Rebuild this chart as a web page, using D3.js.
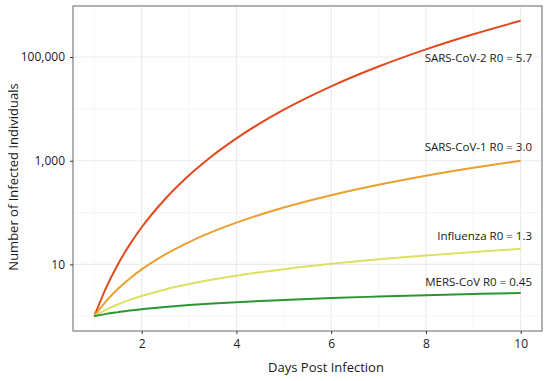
<!DOCTYPE html>
<html>
<head>
<meta charset="utf-8">
<script src="https://cdn.jsdelivr.net/npm/d3@7"></script>
<style>
  body { margin: 0; background: #fff; }
  text { font-family: "Open Sans", sans-serif; }
</style>
</head>
<body>
<svg id="chart"></svg>
<script>
const width = 550;
const height = 381;

// days sampled along the curves
const days = [1, 1.25, 1.5, 1.75, 2, 2.5, 3, 3.5, 4, 5, 6, 7, 8, 9, 10];

// infected individuals
const sarsCov2 = [1, 3.57, 10.1, 24.3, 52, 185, 524, 1263, 2700, 9640, 27250, 65600, 140500, 275000, 501000];
const sarsCov1 = [1, 1.95, 3.38, 5.36, 8, 15.6, 27, 42.9, 64, 125, 216, 343, 512, 729, 1000];
const influenza = [1, 1.34, 1.69, 2.07, 2.46, 3.29, 4.17, 5.10, 6.06, 8.10, 10.3, 12.6, 14.9, 17.4, 19.95];
const mersCov = [1, 1.11, 1.20, 1.29, 1.37, 1.51, 1.64, 1.76, 1.87, 2.06, 2.24, 2.40, 2.55, 2.69, 2.82];

const seriesNames = ["SARS-CoV-2 R0 = 5.7", "SARS-CoV-1 R0 = 3.0", "Influenza R0 = 1.3", "MERS-CoV R0 = 0.45"];
const seriesColors = ["#e04b1d", "#e9a02e", "#dde062", "#2b9530"];
const seriesValues = [sarsCov2, sarsCov1, influenza, mersCov];

const xTicks = [2, 4, 6, 8, 10];
const xMinor = [1, 3, 5, 7, 9];
const yTicks = [10, 1000, 100000];
const yMinor = [1, 100, 10000, 1000000];

const margin = { top: 6, right: 8, bottom: 50, left: 73 };

const svg = d3.select("#chart")
    .attr("width", width)
    .attr("height", height);

const x = d3.scaleLinear()
    .domain([0.55, 10.45])
    .range([margin.left, width - margin.right]);

const y = d3.scaleLog()
    .domain([Math.pow(10, -0.285), Math.pow(10, 5.985)])
    .range([height - margin.bottom, margin.top]);

const grid = svg.append("g");

grid.selectAll(".vminor")
    .data(xMinor.concat(xTicks))
    .join("line")
    .attr("x1", d => x(d)).attr("x2", d => x(d))
    .attr("y1", margin.top).attr("y2", height - margin.bottom)
    .attr("stroke", d => xTicks.includes(d) ? "#ebebeb" : "#f3f3f3")
    .attr("stroke-width", d => xTicks.includes(d) ? 1.1 : 0.8);

grid.selectAll(".hgrid")
    .data(yMinor.concat(yTicks))
    .join("line")
    .attr("x1", margin.left).attr("x2", width - margin.right)
    .attr("y1", d => y(d)).attr("y2", d => y(d))
    .attr("stroke", d => yTicks.includes(d) ? "#ebebeb" : "#f3f3f3")
    .attr("stroke-width", d => yTicks.includes(d) ? 1.1 : 0.8);

const line = d3.line()
    .x((d, i) => x(days[i]))
    .y(d => y(d))
    .curve(d3.curveMonotoneX);

svg.append("g")
    .selectAll("path")
    .data(seriesValues)
    .join("path")
    .attr("fill", "none")
    .attr("stroke", (d, i) => seriesColors[i])
    .attr("stroke-width", 2)
    .attr("d", line);

// curve labels
const labelY = [62, 151, 240, 286];
svg.append("g")
    .selectAll("text")
    .data(seriesNames)
    .join("text")
    .attr("x", 532)
    .attr("y", (d, i) => labelY[i])
    .attr("text-anchor", "end")
    .attr("font-size", 11.5)
    .attr("fill", "#1a1a1a")
    .text(d => d);

// panel border
svg.append("rect")
    .attr("x", margin.left)
    .attr("y", margin.top)
    .attr("width", width - margin.left - margin.right)
    .attr("height", height - margin.top - margin.bottom)
    .attr("fill", "none")
    .attr("stroke", "#7f7f7f")
    .attr("stroke-width", 1.2);

const xAxis = svg.append("g")
    .attr("transform", `translate(0,${height - margin.bottom})`)
    .call(d3.axisBottom(x).tickValues(xTicks).tickSize(3).tickPadding(5));

const yAxis = svg.append("g")
    .attr("transform", `translate(${margin.left},0)`)
    .call(d3.axisLeft(y).tickValues(yTicks).tickFormat(d3.format(",")).tickSize(3).tickPadding(5));

[xAxis, yAxis].forEach(a => {
    a.select(".domain").remove();
    a.selectAll(".tick line").attr("stroke", "#333");
    a.selectAll(".tick text")
        .attr("font-size", 12)
        .attr("fill", "#1a1a1a")
        .style("font-family", "'Open Sans', sans-serif");
});

svg.append("text")
    .attr("x", 326)
    .attr("y", 372)
    .attr("text-anchor", "middle")
    .attr("font-size", 13)
    .attr("fill", "#1a1a1a")
    .text("Days Post Infection");

svg.append("text")
    .attr("transform", "translate(18,177) rotate(-90)")
    .attr("text-anchor", "middle")
    .attr("font-size", 13)
    .attr("fill", "#1a1a1a")
    .text("Number of Infected Individuals");
</script>
</body>
</html>
